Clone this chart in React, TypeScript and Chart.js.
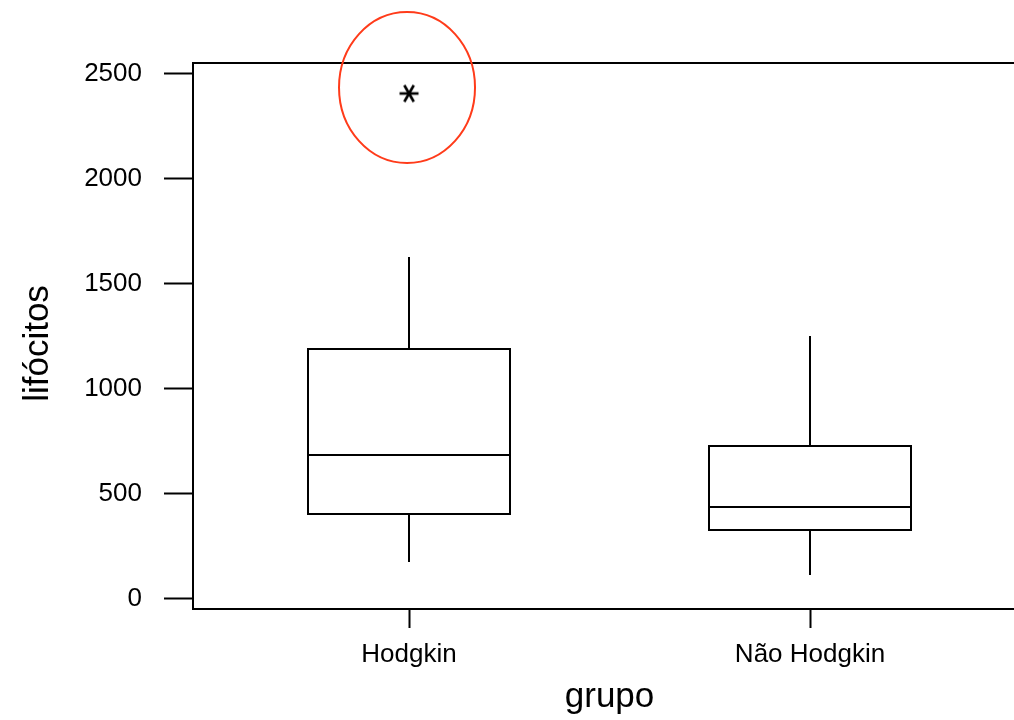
import React, { useEffect, useRef } from "react";
import { Chart, registerables } from "chart.js";

Chart.register(...registerables);

// ---- data ----
const groups = ["Hodgkin", "Não Hodgkin"];
const whiskerLow = [173, 111];
const q1 = [403, 325];
const median = [684, 435];
const q3 = [1186, 726];
const whiskerHigh = [1625, 1250];
const outlierGroup = [1];
const outlierValue = [2405];
const yTicks = [0, 500, 1000, 1500, 2000, 2500];
const xTitle = "grupo";
const yTitle = "lifócitos";

// ---- styles ----
const FONT = "'Liberation Sans', Arial, sans-serif";
const BOX_HALF = 0.253;
const HIGHLIGHT_COLOR = "#ff3b1a";

function makeAsterisk(): HTMLCanvasElement {
  const c = document.createElement("canvas");
  c.width = 24;
  c.height = 24;
  const g = c.getContext("2d")!;
  g.strokeStyle = "#000";
  g.lineWidth = 2.6;
  g.lineCap = "butt";
  const r = 9.5;
  for (let k = 0; k < 3; k++) {
    const a = (k * Math.PI) / 3;
    g.beginPath();
    g.moveTo(12 - r * Math.cos(a), 12 - r * Math.sin(a));
    g.lineTo(12 + r * Math.cos(a), 12 + r * Math.sin(a));
    g.stroke();
  }
  return c;
}

const boxPlugin = {
  id: "boxes",
  afterDatasetsDraw(chart: any) {
    const { ctx, chartArea, scales } = chart;
    const x = scales.x;
    const y = scales.y;
    const R = Math.round;
    ctx.save();
    ctx.strokeStyle = "#000";
    ctx.lineWidth = 2;
    groups.forEach((_, i) => {
      const cx = R(x.getPixelForValue(i + 1));
      const l = R(x.getPixelForValue(i + 1 - BOX_HALF));
      const r = R(x.getPixelForValue(i + 1 + BOX_HALF));
      const yq1 = R(y.getPixelForValue(q1[i]));
      const yq3 = R(y.getPixelForValue(q3[i]));
      const ym = R(y.getPixelForValue(median[i]));
      const ylo = R(y.getPixelForValue(whiskerLow[i]));
      const yhi = R(y.getPixelForValue(whiskerHigh[i]));
      ctx.strokeRect(l, yq3, r - l, yq1 - yq3);
      ctx.beginPath();
      ctx.moveTo(l, ym);
      ctx.lineTo(r, ym);
      ctx.moveTo(cx, yq3);
      ctx.lineTo(cx, yhi);
      ctx.moveTo(cx, yq1);
      ctx.lineTo(cx, ylo);
      ctx.stroke();
    });
    // top frame line
    ctx.beginPath();
    ctx.moveTo(R(chartArea.left) - 1, R(chartArea.top));
    ctx.lineTo(chartArea.right + 20, R(chartArea.top));
    ctx.stroke();
    // highlight ellipse around outlier
    const ex = x.getPixelForValue(outlierGroup[0]) - 2;
    const ey = y.getPixelForValue(outlierValue[0]) - 6;
    ctx.strokeStyle = HIGHLIGHT_COLOR;
    ctx.lineWidth = 2;
    ctx.beginPath();
    ctx.ellipse(ex, ey, 68, 75.5, 0, 0, Math.PI * 2);
    ctx.stroke();
    // axis titles
    ctx.fillStyle = "#000";
    ctx.font = `35px ${FONT}`;
    ctx.textAlign = "center";
    ctx.textBaseline = "middle";
    const midX = (x.getPixelForValue(1) + x.getPixelForValue(groups.length)) / 2;
    ctx.fillText(xTitle, midX, 697);
    ctx.translate(38, 343.5);
    ctx.rotate(-Math.PI / 2);
    ctx.fillText(yTitle, 0, 0);
    ctx.restore();
  },
};

export default function App() {
  const ref = useRef<HTMLCanvasElement>(null);
  useEffect(() => {
    if (!ref.current) return;
    Chart.defaults.font.family = FONT;
    const chart = new Chart(ref.current, {
      type: "scatter",
      data: {
        datasets: [
          {
            data: outlierValue.map((v, i) => ({ x: outlierGroup[i], y: v })),
            pointStyle: makeAsterisk() as any,
            pointRadius: 12,
            borderColor: "#000",
            backgroundColor: "#000",
          },
        ],
      },
      options: {
        animation: false,
        responsive: false,
        devicePixelRatio: 1,
        layout: {
          autoPadding: false,
          padding: { top: 63, left: 0, right: 0, bottom: 0 },
        },
        plugins: { legend: { display: false }, tooltip: { enabled: false } },
        scales: {
          x: {
            type: "linear",
            min: 0.4613,
            max: 2.5087,
            afterBuildTicks: (s: any) => {
              s.ticks = groups.map((_, i) => ({ value: i + 1 }));
            },
            afterFit: (s: any) => {
              s.height = 111;
              s.paddingLeft = 0;
              s.paddingRight = 0;
            },
            ticks: {
              autoSkip: false,
              maxRotation: 0,
              color: "#000",
              font: { size: 26 },
              padding: 11,
              callback: (v: any) => groups[Math.round(v) - 1] ?? "",
            },
            grid: {
              display: true,
              drawOnChartArea: false,
              drawTicks: true,
              tickLength: 19,
              tickWidth: 2,
              tickColor: "#000",
            },
            border: { display: true, color: "#000", width: 2 },
            title: { display: false },
          },
          y: {
            type: "linear",
            min: -50,
            max: 2550,
            afterBuildTicks: (s: any) => {
              s.ticks = yTicks.map((v) => ({ value: v }));
            },
            afterFit: (s: any) => {
              s.width = 193;
              s.paddingTop = 0;
              s.paddingBottom = 0;
            },
            ticks: {
              color: "#000",
              font: { size: 26 },
              padding: 22,
              callback: (v: any) => String(v),
            },
            grid: {
              display: true,
              drawOnChartArea: false,
              drawTicks: true,
              tickLength: 29,
              tickWidth: 2,
              tickColor: "#000",
            },
            border: { display: true, color: "#000", width: 2 },
          },
        },
      },
      plugins: [boxPlugin],
    });
    return () => chart.destroy();
  }, []);
  return (
    <div
      style={{
        position: "absolute",
        left: 0,
        top: 0,
        width: 1014,
        height: 720,
        overflow: "hidden",
        background: "#fff",
      }}
    >
      <canvas ref={ref} width={1014} height={720} style={{ display: "block" }} />
    </div>
  );
}
